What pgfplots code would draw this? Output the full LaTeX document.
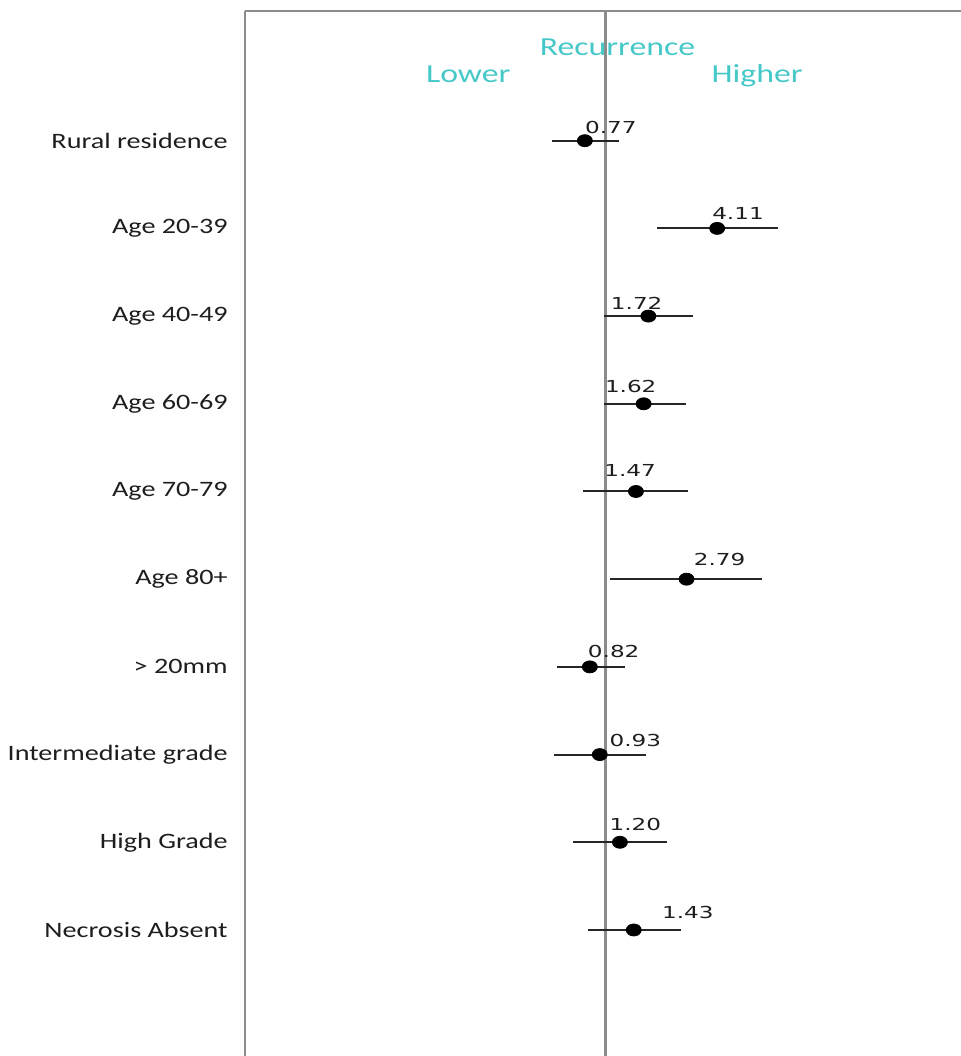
\documentclass[border=0pt]{standalone}
\usepackage{pgfplots}
\pgfplotsset{compat=1.18}
\usepackage{pgfplotstable}
\usepackage{fontspec}
\setmainfont{Carlito}
\newfontfamily\labfont[FakeStretch=1.28]{Carlito}
\newfontfamily\hdrfont[FakeStretch=1.3]{Carlito}
\newfontfamily\numfont[FakeStretch=1.4]{DejaVu Sans}
\definecolor{tealtxt}{RGB}{70,200,200}
\definecolor{axgray}{RGB}{140,140,140}
\definecolor{txt}{RGB}{30,30,30}

% row (negative = downwards), odds ratio, lower CI, upper CI
\pgfplotstableread{
row  or    lo     hi
-1   0.77  0.506  1.19
-2   4.11  1.93   8.85
-3   1.72  0.98   3.04
-4   1.62  0.98   2.76
-5   1.47  0.749  2.83
-6   2.79  1.06   7.28
-7   0.82  0.539  1.28
-8   0.93  0.521  1.67
-9   1.20  0.660  2.19
-10  1.43  0.804  2.59
}\data

\begin{document}
\begin{tikzpicture}
\begin{axis}[
  scale only axis,
  width=357.75pt, height=522.5pt,
  xmode=log, xmin=0.01049, xmax=90,
  ymin=-11.437, ymax=0.479,
  axis x line*=top, axis y line*=left,
  axis line style={axgray, line width=1pt, -},
  xtick=\empty,
  ytick={-1,-2,-3,-4,-5,-6,-7,-8,-9,-10},
  yticklabels={Rural residence, Age 20-39, Age 40-49, Age 60-69, Age 70-79, Age 80+, {> 20mm}, Intermediate grade, High Grade, Necrosis Absent},
  major tick length=0pt,
  yticklabel style={font=\fontsize{11pt}{13pt}\selectfont\labfont, text=txt, inner sep=0pt, xshift=-8.75pt},
  clip=false,
]
\addplot[axgray, line width=1.5pt, no marks] coordinates {(1,0.479) (1,-11.437)};
\addplot[only marks, mark=*, mark size=3pt, black,
  mark options={xscale=1.25, fill=black},
  error bars/.cd, x dir=both, x explicit, error mark=none,
  error bar style={line width=1pt, black!85}]
  table[x=or, y=row,
        x error plus expr=\thisrow{hi}-\thisrow{or},
        x error minus expr=\thisrow{or}-\thisrow{lo}] {\data};

\begin{scope}[every node/.style={font=\fontsize{8.25pt}{10pt}\selectfont\numfont, text=txt, inner sep=0pt}]
\node at (axis cs:1.069,-0.847) {0.77};
\node at (axis cs:5.35,-1.828) {4.11};
\node at (axis cs:1.484,-2.854) {1.72};
\node at (axis cs:1.376,-3.805) {1.62};
\node at (axis cs:1.364,-4.766) {1.47};
\node at (axis cs:4.24,-5.781) {2.79};
\node at (axis cs:1.109,-6.827) {0.82};
\node at (axis cs:1.458,-7.845) {0.93};
\node at (axis cs:1.458,-8.795) {1.20};
\node at (axis cs:2.835,-9.803) {1.43};
\end{scope}

\begin{scope}[every node/.style={font=\fontsize{13pt}{15pt}\selectfont\hdrfont, text=tealtxt, inner sep=0pt, anchor=base}]
\node at (axis cs:1.164,-0.034) {Recurrence};
\node at (axis cs:0.176,-0.342) {Lower};
\node at (axis cs:6.82,-0.342) {Higher};
\end{scope}
\end{axis}
\pgfresetboundingbox
\path[use as bounding box] ([xshift=-122.75pt]current axis.south west) rectangle ([yshift=5.5pt]current axis.north east);
\end{tikzpicture}
\end{document}
